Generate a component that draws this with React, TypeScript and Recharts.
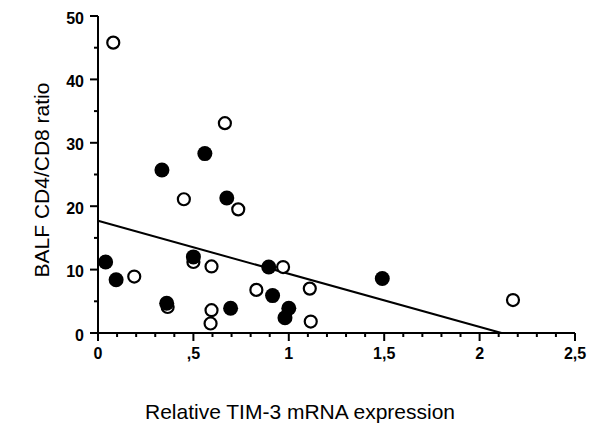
import { Label, ReferenceLine, Scatter, ScatterChart, XAxis, YAxis } from 'recharts';

// open circles
const openX = [0.08, 0.665, 0.45, 0.735, 0.19, 0.5, 0.595, 0.97, 0.83, 0.595, 0.59, 0.365, 1.11, 1.115, 2.175];
const openY = [45.8, 33.1, 21.1, 19.5, 8.9, 11.2, 10.5, 10.4, 6.8, 3.6, 1.5, 4.1, 7.0, 1.8, 5.2];

// filled circles
const filledX = [0.335, 0.56, 0.675, 0.04, 0.095, 0.5, 0.36, 0.695, 0.895, 0.915, 1.0, 0.98, 1.49];
const filledY = [25.7, 28.3, 21.3, 11.2, 8.4, 12.0, 4.7, 3.9, 10.4, 5.9, 3.9, 2.4, 8.6];

// regression line: value at x=0, and where it reaches 0
const trendStart = { x: 0, y: 17.7 };
const trendEnd = { x: 2.115, y: 0 };

const xTicks = [0, 0.1, 0.2, 0.3, 0.4, 0.5, 0.6, 0.7, 0.8, 0.9, 1, 1.1, 1.2, 1.3, 1.4, 1.5, 1.6, 1.7, 1.8, 1.9, 2, 2.1, 2.2, 2.3, 2.4, 2.5];
const xMajor = [0, 0.5, 1, 1.5, 2, 2.5];
const xLabels = ['0', ',5', '1', '1,5', '2', '2,5'];

const yTicks = [0, 5, 10, 15, 20, 25, 30, 35, 40, 45, 50];
const yMajor = [0, 10, 20, 30, 40, 50];
const yLabels = ['0', '10', '20', '30', '40', '50'];

const font = '"Liberation Sans", Arial, sans-serif';

const openData = openX.map((x, i) => ({ x, y: openY[i] }));
const filledData = filledX.map((x, i) => ({ x, y: filledY[i] }));

const majorIndex = (list: number[], v: number) => list.findIndex((m) => Math.abs(m - v) < 1e-6);

function XTick({ x, y, payload }: any) {
  const idx = majorIndex(xMajor, payload.value);
  return (
    <g>
      <line x1={x} x2={x} y1={y} y2={y + (idx >= 0 ? 8 : 4)} stroke="#000" strokeWidth={2} />
      {idx >= 0 && (
        <text x={x} y={y + 20} textAnchor="middle" dominantBaseline="central" fontFamily={font} fontWeight="bold" fontSize={16} fill="#000">
          {xLabels[idx]}
        </text>
      )}
    </g>
  );
}

function YTick({ x, y, payload }: any) {
  const idx = majorIndex(yMajor, payload.value);
  return (
    <g>
      <line x1={x} x2={x - (idx >= 0 ? 8 : 4)} y1={y} y2={y} stroke="#000" strokeWidth={2} />
      {idx >= 0 && (
        <text x={x - 14} y={y + 2} textAnchor="end" dominantBaseline="central" fontFamily={font} fontWeight="bold" fontSize={16} fill="#000">
          {yLabels[idx]}
        </text>
      )}
    </g>
  );
}

const OpenDot = ({ cx, cy }: any) => <circle cx={cx} cy={cy} r={6} fill="#fff" stroke="#000" strokeWidth={2.2} />;
const FilledDot = ({ cx, cy }: any) => <circle cx={cx} cy={cy} r={7.5} fill="#000" />;

export default function App() {
  return (
    <div style={{ width: 592, height: 428 }}>
      <ScatterChart width={592} height={428} margin={{ top: 8, right: 25, left: 0, bottom: 0 }}>
        <XAxis
          type="number"
          dataKey="x"
          domain={[0, 2.5]}
          ticks={xTicks}
          interval={0}
          height={103}
          tickSize={0}
          tickMargin={0}
          tickLine={false}
          tick={<XTick />}
          axisLine={{ stroke: '#000', strokeWidth: 2 }}
        >
          <Label
            content={() => (
              <text x={292} y={403} textAnchor="middle" dominantBaseline="central" fontFamily={font} fontSize={21} fill="#000">
                Relative TIM-3 mRNA expression
              </text>
            )}
          />
        </XAxis>
        <YAxis
          type="number"
          dataKey="y"
          domain={[0, 50]}
          ticks={yTicks}
          interval={0}
          width={90}
          tickSize={0}
          tickMargin={0}
          tickLine={false}
          tick={<YTick />}
          axisLine={{ stroke: '#000', strokeWidth: 2 }}
        >
          <Label
            content={() => (
              <text x={33} y={172} transform="rotate(-90 33 172)" textAnchor="middle" dominantBaseline="central" fontFamily={font} fontSize={21} fill="#000">
                BALF CD4/CD8 ratio
              </text>
            )}
          />
        </YAxis>
        <ReferenceLine segment={[trendStart, trendEnd]} stroke="#000" strokeWidth={2} ifOverflow="visible" />
        <Scatter data={openData} shape={<OpenDot />} isAnimationActive={false} />
        <Scatter data={filledData} shape={<FilledDot />} isAnimationActive={false} />
      </ScatterChart>
    </div>
  );
}
